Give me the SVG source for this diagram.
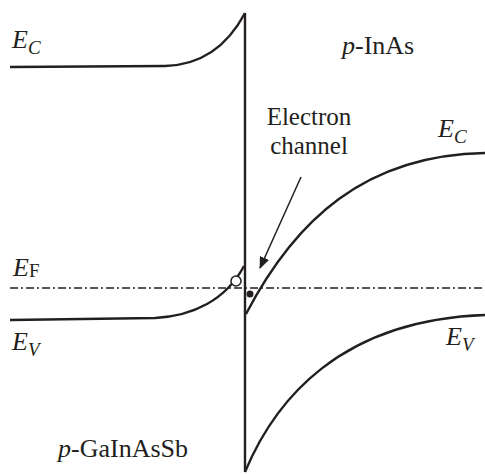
<svg xmlns="http://www.w3.org/2000/svg" width="485" height="474" viewBox="0 0 485 474">
<defs>
<style>
.band{fill:none;stroke:#231f20;stroke-width:2.4}
.ef{fill:none;stroke:#231f20;stroke-width:1.3;stroke-dasharray:8,3,2,3}
.t{font-family:"Liberation Serif","Times New Roman",serif;font-size:26px;fill:#231f20}
.lbl{font-size:25px}
.i{font-style:italic}
.sub{font-size:19px}
</style>
<marker id="ah" viewBox="0 0 12 10" refX="11" refY="5" markerWidth="12" markerHeight="10" markerUnits="userSpaceOnUse" orient="auto">
<path d="M0,0 L12,5 L0,10 z" fill="#231f20"/>
</marker>
</defs>
<rect width="485" height="474" fill="#fff"/>
<g id="connectors">
<path class="band" d="M10,67 L165,66 C203,65 228,45 245,13"/>
<path class="band" d="M245,13 L245,472"/>
<path class="band" d="M10,320 L155,318 C193,316 226,300 244,266"/>
<path class="ef" d="M10,288 L485,288"/>
<path class="band" d="M246,314 C295,220 365,155 485,153"/>
<path class="band" d="M245,472 C275,400 340,320 485,315"/>
<path d="M301,177 L260,268" stroke="#231f20" stroke-width="1.5" fill="none" marker-end="url(#ah)"/>
</g>
<g id="hole"><circle cx="236" cy="281" r="5" fill="#fff" stroke="#231f20" stroke-width="1.5"/></g>
<g id="electron"><circle cx="250" cy="294" r="3.5" fill="#231f20"/></g>
<g id="labels">
<text class="t i" x="12" y="48">E<tspan class="sub" dy="6">C</tspan></text>
<text class="t" x="342" y="54"><tspan class="i">p</tspan>-InAs</text>
<text class="t lbl" x="309" y="125" text-anchor="middle">Electron</text>
<text class="t lbl" x="309" y="154" text-anchor="middle">channel</text>
<text class="t i" x="438" y="137">E<tspan class="sub" dy="6">C</tspan></text>
<text class="t i" x="13" y="276">E<tspan class="sub" style="font-style:normal" dy="1">F</tspan></text>
<text class="t i" x="12" y="350">E<tspan class="sub" dy="6">V</tspan></text>
<text class="t i" x="446" y="345">E<tspan class="sub" dy="6">V</tspan></text>
<text class="t" x="58" y="457"><tspan class="i">p</tspan>-GaInAsSb</text>
</g>
</svg>
